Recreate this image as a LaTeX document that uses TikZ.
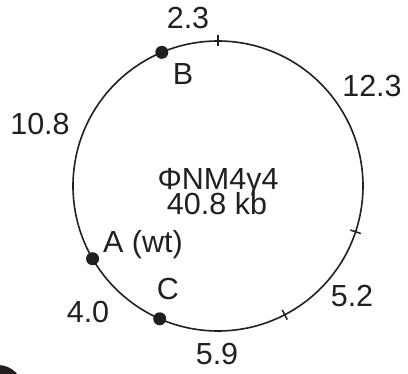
\documentclass[tikz,border=0pt]{standalone}
\usepackage{fontspec}
\setmainfont{Liberation Sans}
\definecolor{ink}{HTML}{231F20}
\begin{document}
\begin{tikzpicture}[x=1pt,y=1pt,
  lbl/.style={anchor=base,inner sep=0pt,text=ink,font=\fontsize{30.5}{25}\selectfont},
  dot/.style={circle,fill=ink,draw=none,minimum size=13pt,inner sep=0pt},
  ring/.style={draw=ink,line width=1.6pt},
  tick/.style={draw=ink,line width=1.5pt}]
\useasboundingbox (0,0) rectangle (408,-374);
\coordinate (O) at (218,-186);
\draw[ring] (O) circle[radius=145];
% ticks
\foreach \a/\n in {90/t1,-18.4/t2,-62.6/t3}{
  \coordinate (\n i) at ([shift={(\a:139.5)}]O);
  \coordinate (\n o) at ([shift={(\a:150.5)}]O);
  \draw[tick] (\n i) -- (\n o);
}
% markers
\node[dot] (B) at ([shift={(112.8:145)}]O) {};
\node[dot] (A) at ([shift={(210.1:145)}]O) {};
\node[dot] (C) at ([shift={(246.3:145)}]O) {};
% labels
\node[lbl] (l23) at (188,-29) {2.3};
\node[lbl] (lB) at (183,-85) {B};
\node[lbl] (l123) at (372,-97) {12.3};
\node[lbl] (l108) at (40,-135) {10.8};
\node[lbl] (name) at (218,-190) {ΦNM4γ4};
\node[lbl] (size) at (217,-215) {40.8 kb};
\node[lbl] (lA) at (143,-253) {A (wt)};
\node[lbl] (lC) at (168,-300) {C};
\node[lbl] (l40) at (88,-323) {4.0};
\node[lbl] (l52) at (352,-307) {5.2};
\node[lbl] (l59) at (217,-365) {5.9};
% partial shape at bottom-left corner
\begin{scope}
\clip (0,0) rectangle (408,-374);
\fill[ink] (-2,-390) circle[radius=25];
\end{scope}
\end{tikzpicture}
\end{document}
